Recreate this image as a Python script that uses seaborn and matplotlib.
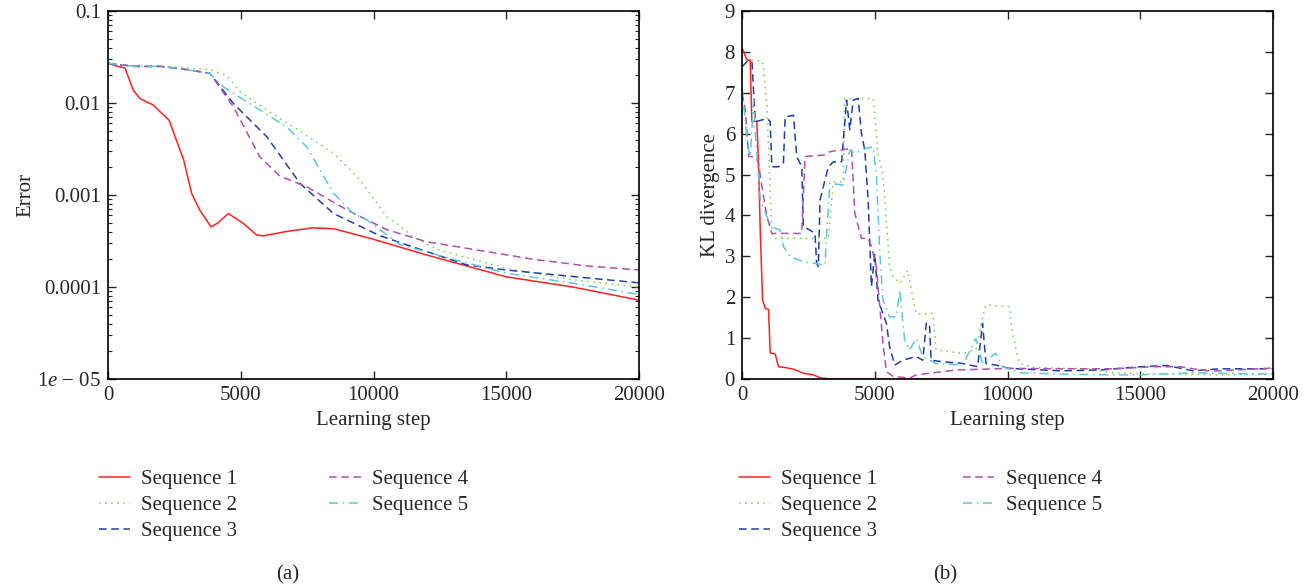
import numpy as np
import pandas as pd
import seaborn as sns
import matplotlib.pyplot as plt
from matplotlib.ticker import LogLocator, FixedLocator, NullFormatter

# (a) error vs learning step
err1_x = [0, 390, 640, 950, 1200, 1700, 2300, 2850, 3150, 3450, 3880, 4150, 4530, 5100, 5600, 5850, 6700, 7700, 8500, 10000, 12000, 15000, 17500, 20000]
err1_y = [0.027, 0.0249, 0.024, 0.0138, 0.0112, 0.0095, 0.0065, 0.0024, 0.00104, 0.00069, 0.00045, 0.0005, 0.00063, 0.00049, 0.000367, 0.00036, 0.0004, 0.00044, 0.00043, 0.00033, 0.000223, 0.000129, 0.0001, 0.000072]

err2_x = [0, 1000, 2000, 3000, 3840, 4470, 4970, 5980, 6980, 8490, 9490, 10500, 10870, 11500, 12500, 15000, 17500, 20000]
err2_y = [0.027, 0.025, 0.025, 0.024, 0.023, 0.020, 0.0133, 0.0084, 0.0055, 0.00284, 0.00146, 0.00058, 0.00049, 0.00035, 0.00025, 0.00016, 0.00012, 0.0001]

err3_x = [0, 1000, 2000, 3000, 3840, 4720, 5980, 7230, 8490, 10250, 11870, 13510, 15000, 17500, 20000]
err3_y = [0.027, 0.025, 0.025, 0.023, 0.021, 0.0099, 0.0043, 0.00134, 0.00063, 0.00036, 0.00025, 0.000174, 0.000153, 0.00013, 0.000111]

err4_x = [0, 1000, 2000, 3000, 3840, 4720, 5720, 6480, 7480, 8990, 10500, 12000, 14000, 16020, 18000, 20000]
err4_y = [0.027, 0.025, 0.025, 0.023, 0.021, 0.0091, 0.0026, 0.0016, 0.00123, 0.00069, 0.00042, 0.00031, 0.00025, 0.0002, 0.00017, 0.000153]

err5_x = [0, 1000, 2000, 3000, 3840, 4340, 5720, 6730, 7480, 8490, 9240, 9740, 10990, 13000, 15015, 17500, 20000]
err5_y = [0.027, 0.025, 0.025, 0.023, 0.021, 0.015, 0.0084, 0.0055, 0.00335, 0.00105, 0.00063, 0.00054, 0.00029, 0.0002, 0.000141, 0.00011, 0.000083]

# (b) KL divergence vs learning step
kl1_x = [0, 190, 310, 370, 560, 625, 690, 775, 875, 1000, 1060, 1250, 1375, 1625, 1940, 2310, 2690, 2940, 3310, 12000, 20000]
kl1_y = [8.1, 7.8, 7.8, 6.3, 6.3, 5.19, 3.56, 1.93, 1.73, 1.70, 0.64, 0.61, 0.30, 0.28, 0.24, 0.14, 0.10, 0.03, 0.0, 0.0, 0.0]

kl2_x = [0, 60, 750, 812, 940, 1125, 1250, 3250, 3440, 3810, 3870, 4940, 5120, 5310, 5560, 5690, 5940, 6250, 6375, 6560, 7190, 7310, 8310, 8810, 9060, 9190, 10060, 10190, 10440, 11000, 13000, 14000, 16000, 18000, 20000]
kl2_y = [7.9, 7.8, 7.78, 7.6, 6.66, 3.56, 3.44, 3.44, 4.82, 4.82, 6.86, 6.86, 5.52, 5.0, 2.75, 2.5, 2.34, 2.66, 2.18, 1.6, 1.6, 0.71, 0.63, 0.71, 1.52, 1.81, 1.77, 1.12, 0.38, 0.28, 0.25, 0.15, 0.12, 0.1, 0.12]

kl3_x = [0, 190, 375, 500, 940, 1060, 1125, 1375, 1560, 1625, 1940, 2060, 2250, 2310, 2560, 2750, 2810, 2875, 2940, 3250, 3440, 3750, 3940, 4060, 4190, 4375, 4500, 4625, 4750, 4875, 5000, 5125, 5310, 5440, 5560, 5750, 6060, 6560, 6810, 6940, 7060, 7125, 7560, 8310, 8875, 9060, 9190, 9560, 10060, 12000, 13500, 15000, 16000, 17000, 18000, 20000]
kl3_y = [7.64, 7.76, 7.76, 6.29, 6.37, 6.3, 5.19, 5.19, 5.27, 6.41, 6.45, 5.44, 5.19, 3.72, 3.64, 3.56, 2.83, 2.75, 4.38, 5.19, 5.31, 5.31, 6.82, 6.09, 6.82, 6.86, 6.0, 5.6, 4.38, 2.26, 3.07, 1.93, 1.6, 1.36, 0.79, 0.34, 0.46, 0.55, 0.46, 1.36, 1.36, 0.46, 0.42, 0.38, 0.3, 1.36, 0.38, 0.34, 0.26, 0.2, 0.22, 0.3, 0.33, 0.2, 0.25, 0.25]

kl4_x = [0, 125, 250, 500, 625, 750, 940, 1125, 2250, 2375, 3125, 3310, 4125, 4250, 4500, 4750, 4875, 5060, 5190, 5310, 5440, 5690, 6060, 6310, 6560, 7060, 8060, 10060, 12000, 14000, 15500, 16500, 17500, 18000, 20000]
kl4_y = [7.0, 6.58, 5.44, 5.44, 5.27, 4.7, 3.97, 3.56, 3.56, 5.44, 5.48, 5.56, 5.64, 4.05, 3.44, 3.44, 3.24, 2.75, 1.77, 0.87, 0.18, 0.06, 0.04, 0.02, 0.1, 0.14, 0.22, 0.26, 0.25, 0.25, 0.3, 0.3, 0.2, 0.2, 0.27]

kl5_x = [0, 190, 310, 440, 500, 690, 940, 1125, 1440, 1560, 1810, 2310, 3125, 3190, 3310, 3810, 4060, 4250, 4690, 4940, 5060, 5190, 5310, 5560, 5810, 5940, 6125, 6310, 6560, 6810, 7310, 8310, 8810, 9060, 9560, 9810, 10500, 12000, 14000, 15000, 17000, 20000]
kl5_y = [7.15, 5.84, 5.44, 6.82, 6.0, 4.38, 3.97, 3.72, 3.64, 3.24, 2.99, 2.87, 2.79, 3.56, 4.79, 4.74, 5.6, 5.52, 5.64, 5.68, 5.03, 3.07, 1.93, 1.52, 1.52, 2.18, 0.95, 0.71, 0.99, 0.55, 0.38, 0.34, 0.99, 0.38, 0.63, 0.3, 0.15, 0.12, 0.1, 0.1, 0.15, 0.12]

names = ["Sequence 1", "Sequence 2", "Sequence 3", "Sequence 4", "Sequence 5"]
colors = ["#ff2020", "#7ccf45", "#1f3fa8", "#b24fb2", "#5cc8d8"]
styles = ["-", (0, (1, 3)), (0, (5, 3)), (0, (5, 3)), (0, (6, 3, 1, 3))]

err_x = [err1_x, err2_x, err3_x, err4_x, err5_x]
err_y = [err1_y, err2_y, err3_y, err4_y, err5_y]
kl_x = [kl1_x, kl2_x, kl3_x, kl4_x, kl5_x]
kl_y = [kl1_y, kl2_y, kl3_y, kl4_y, kl5_y]

sns.set_style("ticks")
plt.rcParams['font.family'] = ['Liberation Serif', 'DejaVu Serif']
plt.rcParams['mathtext.fontset'] = 'custom'
plt.rcParams['mathtext.it'] = 'Liberation Serif:italic'
plt.rcParams['mathtext.rm'] = 'Liberation Serif'
FS = 15

fig = plt.figure(figsize=(13.16, 5.87), dpi=100)
ax1 = fig.add_axes([108 / 1316, 1 - 379 / 587, 531 / 1316, 368 / 587])
ax2 = fig.add_axes([742 / 1316, 1 - 379 / 587, 531 / 1316, 368 / 587])

for i in range(5):
    df = pd.DataFrame({"step": err_x[i], "val": err_y[i]})
    sns.lineplot(data=df, x="step", y="val", ax=ax1, color=colors[i], linestyle=styles[i],
                 linewidth=1.1, label=names[i], legend=False, estimator=None, sort=False)
    df = pd.DataFrame({"step": kl_x[i], "val": kl_y[i]})
    sns.lineplot(data=df, x="step", y="val", ax=ax2, color=colors[i], linestyle=styles[i],
                 linewidth=1.1, label=names[i], legend=False, estimator=None, sort=False)

ax1.set_yscale("log")
ax1.set_ylim(1e-5, 0.1)
ax1.yaxis.set_major_locator(FixedLocator([1e-5, 1e-4, 1e-3, 1e-2, 1e-1]))
ax1.set_yticklabels(["1$e$ − 05", "0.0001", "0.001", "0.01", "0.1"])
ax1.yaxis.set_minor_locator(LogLocator(base=10, subs=np.arange(2, 10)))
ax1.yaxis.set_minor_formatter(NullFormatter())
ax1.set_ylabel("Error", fontsize=FS, labelpad=1)

ax2.set_ylim(0, 9)
ax2.set_yticks(range(0, 10))
ax2.set_ylabel("KL divergence", fontsize=FS, labelpad=3)

legend_x = [80 / 1316, 720 / 1316]
col_gap = [4.4, 4.1]
tag_x = [288 / 1316, 945 / 1316]
for k, (ax, tag) in enumerate([(ax1, "(a)"), (ax2, "(b)")]):
    ax.set_xlim(0, 20000)
    ax.set_xticks([0, 5000, 10000, 15000, 20000])
    ax.set_xlabel("Learning step", fontsize=FS, labelpad=4)
    ax.tick_params(which="both", direction="in", top=True, right=True, labelsize=FS, pad=5)
    ax.tick_params(which="major", length=6, width=1)
    ax.tick_params(which="minor", length=3, width=0.8)
    for s in ax.spines.values():
        s.set_linewidth(1.2)
        s.set_color("black")
    h, l = ax.get_legend_handles_labels()
    fig.legend(h, l, ncol=2, frameon=False, fontsize=FS, loc="upper left",
               bbox_to_anchor=(legend_x[k], 0.232), handlelength=1.5,
               handletextpad=0.55, columnspacing=col_gap[k], labelspacing=0.3)
    fig.text(tag_x[k], 0.012, tag, ha="center", fontsize=FS)

fig.savefig("out.png", dpi=100)
